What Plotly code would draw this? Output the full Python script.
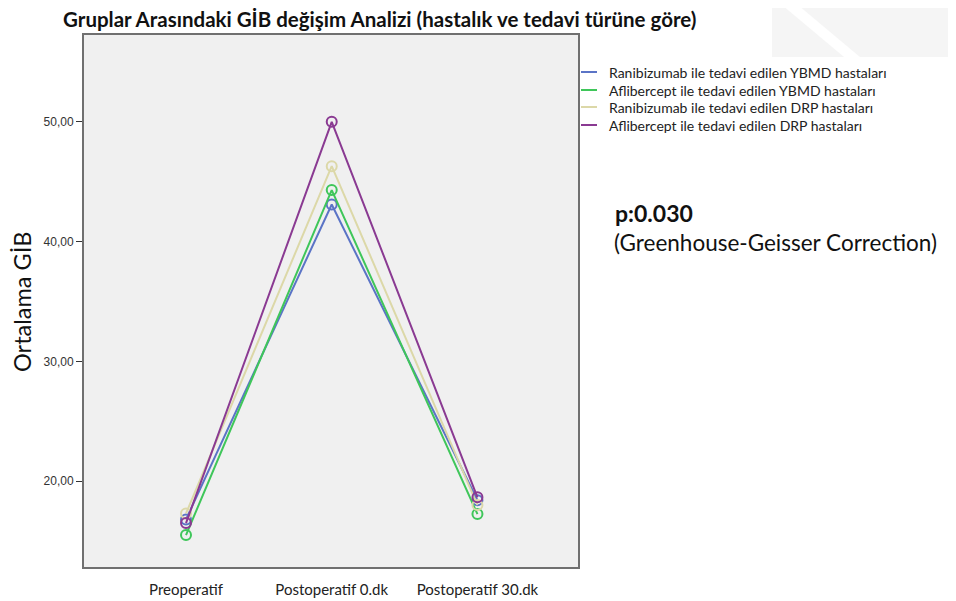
import plotly.graph_objects as go

categories = ["Preoperatif", "Postoperatif 0.dk", "Postoperatif 30.dk"]
series_names = [
    "Ranibizumab ile tedavi edilen YBMD hastaları",
    "Aflibercept ile tedavi edilen YBMD hastaları",
    "Ranibizumab ile tedavi edilen DRP hastaları",
    "Aflibercept ile tedavi edilen DRP hastaları",
]
ranibizumab_ybmd = [16.8, 43.1, 18.4]
aflibercept_ybmd = [15.5, 44.3, 17.25]
ranibizumab_drp = [17.3, 46.3, 18.0]
aflibercept_drp = [16.5, 50.0, 18.65]
series_values = [ranibizumab_ybmd, aflibercept_ybmd, ranibizumab_drp, aflibercept_drp]
colors = ["#5b74c6", "#3fc65a", "#dcd8a8", "#8a3a92"]
y_tick_vals = [20, 30, 40, 50]
y_tick_text = ["20,00", "30,00", "40,00", "50,00"]

# page has an 8px body margin; work in screen pixels and convert
OFF = 8
W, H = 956 - 2 * OFF, 601 - OFF
SL, SR, ST, SB = 84, 578, 35, 567          # plot frame in screen pixels
L, R, T, B = SL - OFF, SR - OFF, ST - OFF, SB - OFF


def px(x):
    return (x - SL) / (SR - SL)


def py(y):
    return (SB - y) / (SB - ST)


fig = go.Figure()
for name, vals, col in zip(series_names, series_values, colors):
    fig.add_trace(go.Scatter(
        x=[0, 1, 2], y=vals, name=name, mode="lines+markers",
        line=dict(color=col, width=2),
        marker=dict(symbol="circle-open", size=10, color=col, line=dict(width=2)),
        showlegend=False,
    ))

shapes = []
annotations = []

# faint watermark in the top-right corner
shapes.append(dict(type="path", xref="paper", yref="paper", layer="below",
                   path=f"M {px(772)},{py(0)} L {px(956)},{py(0)} L {px(956)},{py(57)} L {px(772)},{py(57)} Z",
                   fillcolor="#f5f5f5", line=dict(width=0)))
shapes.append(dict(type="path", xref="paper", yref="paper", layer="below",
                   path=f"M {px(776)},{py(0)} L {px(792)},{py(0)} L {px(860)},{py(57)} L {px(844)},{py(57)} Z",
                   fillcolor="#ffffff", line=dict(width=0)))

legend_y = [72, 90, 107, 125]
for name, col, ly in zip(series_names, colors, legend_y):
    shapes.append(dict(type="line", xref="paper", yref="paper",
                       x0=px(581), x1=px(597), y0=py(ly), y1=py(ly),
                       line=dict(color=col, width=2)))
    annotations.append(dict(text=name, xref="paper", yref="paper",
                            x=px(607), y=py(ly), xanchor="left", yanchor="middle",
                            showarrow=False, font=dict(family="Lato", size=14, color="#222")))

annotations.append(dict(text="<b>p:0.030</b>", xref="paper", yref="paper",
                        x=px(613), y=py(213), xanchor="left", yanchor="middle",
                        showarrow=False, font=dict(family="Lato", size=23, color="#111")))
annotations.append(dict(text="(Greenhouse-Geisser Correction)", xref="paper", yref="paper",
                        x=px(612), y=py(242), xanchor="left", yanchor="middle",
                        showarrow=False, font=dict(family="Lato", size=22.5, color="#111")))
annotations.append(dict(text="<b>Gruplar Arasındaki GİB değişim Analizi (hastalık ve tedavi türüne göre)</b>",
                        xref="paper", yref="paper",
                        x=px(62), y=py(19), xanchor="left", yanchor="middle",
                        borderpad=0,
                        showarrow=False, font=dict(family="Lato", size=20.5, color="#111")))
annotations.append(dict(text="Ortalama GİB", xref="paper", yref="paper",
                        x=px(22), y=py(302), xanchor="center", yanchor="middle",
                        textangle=-90, showarrow=False,
                        font=dict(family="Lato", size=23.5, color="#111")))

fig.update_layout(
    width=W, height=H,
    margin=dict(l=L, r=W - R, t=T, b=H - B, autoexpand=False),
    paper_bgcolor="white", plot_bgcolor="#f0f0f0",
    shapes=shapes, annotations=annotations,
    showlegend=False,
    xaxis=dict(range=[-0.7, 2.69], tickvals=[0, 1, 2], ticktext=categories,
               showgrid=False, zeroline=False, showline=True, mirror=True,
               linecolor="#707070", linewidth=2, ticks="", automargin=False,
               ticklabelstandoff=8,
               tickfont=dict(family="Lato", size=15, color="#222")),
    yaxis=dict(range=[12.83, 57.25], tickvals=y_tick_vals, ticktext=y_tick_text,
               showgrid=False, zeroline=False, showline=True, mirror=True,
               linecolor="#707070", linewidth=2, ticks="outside", ticklen=6,
               tickcolor="#333", tickwidth=1, automargin=False,
               tickfont=dict(family="Liberation Sans", size=12, color="#333")),
)

fig.write_html("out.html")
